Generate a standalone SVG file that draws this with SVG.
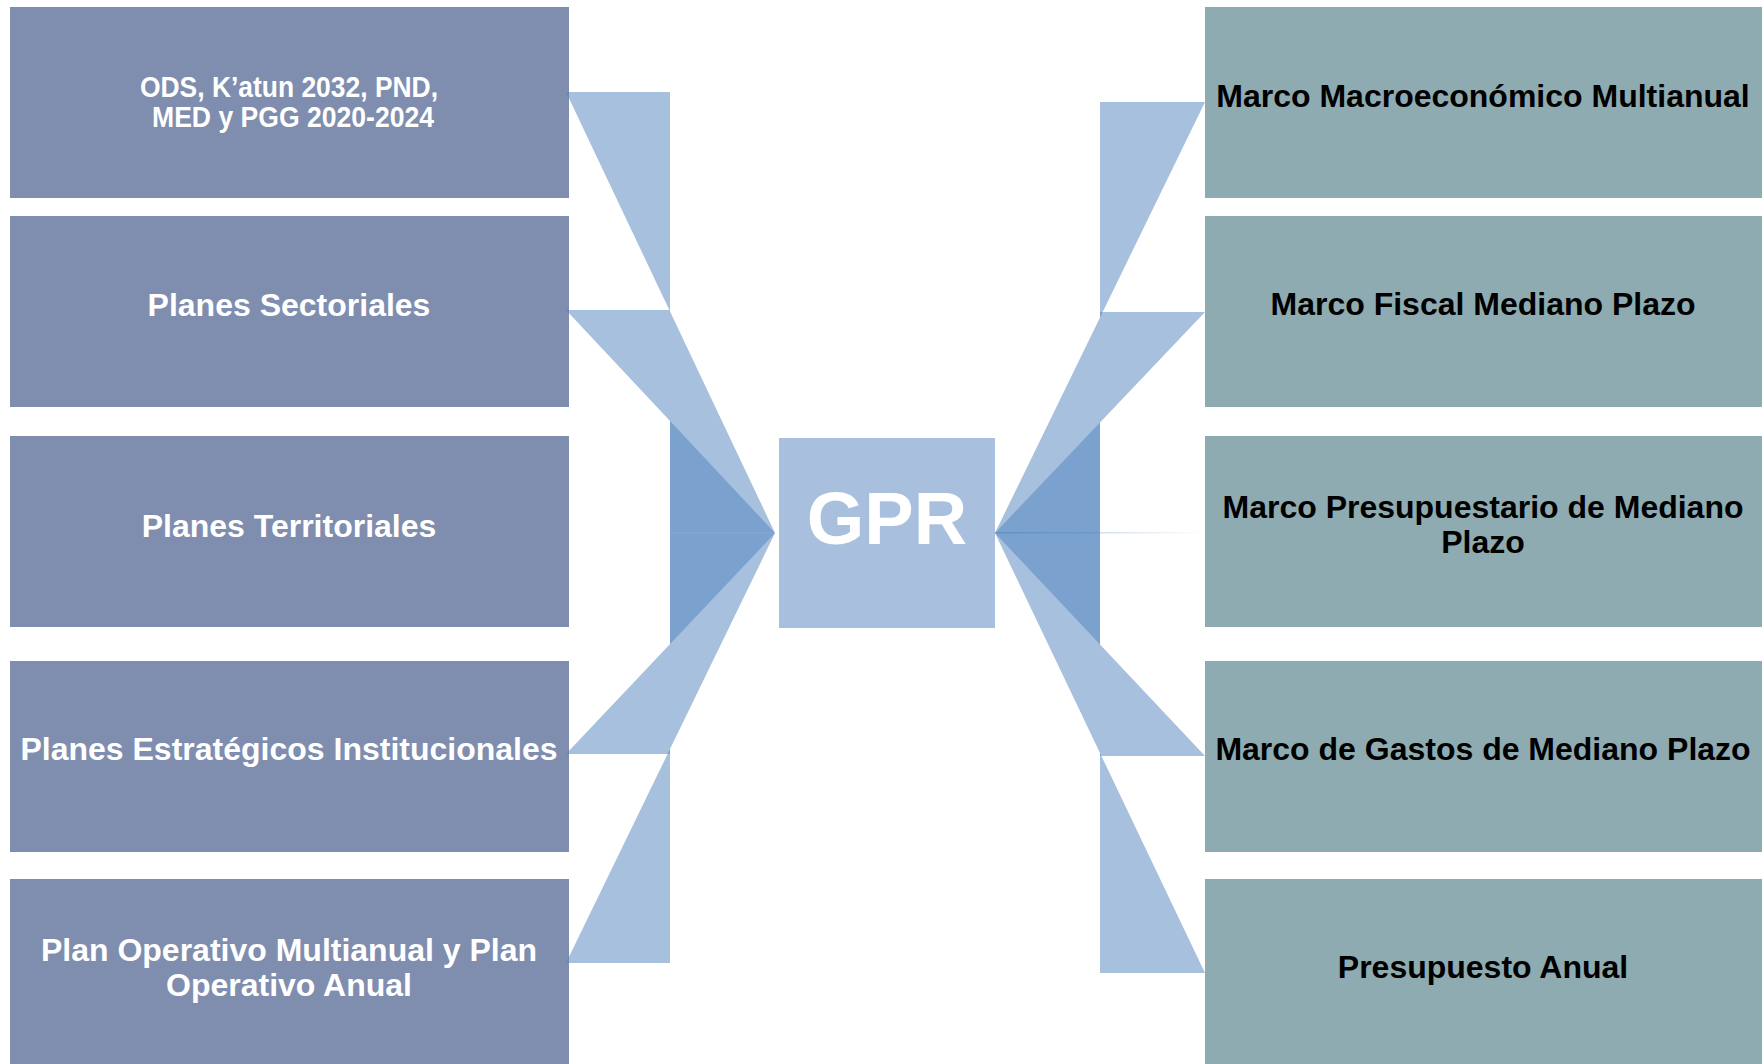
<svg xmlns="http://www.w3.org/2000/svg" width="1762" height="1064" viewBox="0 0 1762 1064">
<defs>
<style>
.lbox{fill:#7F8EAF}
.rbox{fill:#8EABB1}
.lt{font-family:"Liberation Sans",Arial,sans-serif;font-weight:bold;fill:#FFFFFF;text-anchor:middle}
.lts{font-family:"Liberation Sans",Arial,sans-serif;font-weight:bold;fill:#FFFFFF}
.rt{font-family:"Liberation Sans",Arial,sans-serif;font-weight:bold;fill:#000000;text-anchor:middle}
.conn{fill:#4F81BD;fill-opacity:0.5;stroke:none}
</style>
<linearGradient id="fade" x1="0" y1="0" x2="1" y2="0">
<stop offset="0" stop-color="#4F81BD" stop-opacity="0.5"/>
<stop offset="1" stop-color="#4F81BD" stop-opacity="0"/>
</linearGradient>
</defs>
<rect x="0" y="0" width="1762" height="1064" fill="#FFFFFF"/>

<g id="node-ods">
<rect class="lbox" x="10" y="7" width="559" height="191"/>
<text class="lts" x="140" y="97" font-size="29" textLength="298" lengthAdjust="spacingAndGlyphs">ODS, K’atun 2032, PND,</text>
<text class="lts" x="152" y="127" font-size="29" textLength="282" lengthAdjust="spacingAndGlyphs">MED y PGG 2020-2024</text>
</g>
<g id="node-sectoriales">
<rect class="lbox" x="10" y="216" width="559" height="191"/>
<text class="lt" x="289" y="316" font-size="32">Planes Sectoriales</text>
</g>
<g id="node-territoriales">
<rect class="lbox" x="10" y="436" width="559" height="191"/>
<text class="lt" x="289" y="537" font-size="32">Planes Territoriales</text>
</g>
<g id="node-estrategicos">
<rect class="lbox" x="10" y="661" width="559" height="191"/>
<text class="lt" x="289" y="760" font-size="32">Planes Estratégicos Institucionales</text>
</g>
<g id="node-operativo">
<rect class="lbox" x="10" y="879" width="559" height="200"/>
<text class="lt" x="289" y="961" font-size="32">Plan Operativo Multianual y Plan</text>
<text class="lt" x="289" y="996" font-size="32">Operativo Anual</text>
</g>

<g id="node-gpr">
<rect x="779" y="438" width="216" height="190" fill="#A8C0DE"/>
<text x="887" y="544" font-family="Liberation Sans,Arial,sans-serif" font-weight="bold" font-size="74" fill="#FFFFFF" text-anchor="middle">GPR</text>
</g>

<g id="node-macro">
<rect class="rbox" x="1205" y="7" width="557" height="191"/>
<text class="rt" x="1483" y="107" font-size="32">Marco Macroeconómico Multianual</text>
</g>
<g id="node-fiscal">
<rect class="rbox" x="1205" y="216" width="557" height="191"/>
<text class="rt" x="1483" y="315" font-size="32">Marco Fiscal Mediano Plazo</text>
</g>
<g id="node-presupuestario">
<rect class="rbox" x="1205" y="436" width="557" height="191"/>
<text class="rt" x="1483" y="518" font-size="32">Marco Presupuestario de Mediano</text>
<text class="rt" x="1483" y="553" font-size="32">Plazo</text>
</g>
<g id="node-gastos">
<rect class="rbox" x="1205" y="661" width="557" height="191"/>
<text class="rt" x="1483" y="760" font-size="32">Marco de Gastos de Mediano Plazo</text>
</g>
<g id="node-anual">
<rect class="rbox" x="1205" y="879" width="557" height="200"/>
<text class="rt" x="1483" y="978" font-size="32">Presupuesto Anual</text>
</g>

<g id="connectors">
<polygon class="conn" points="566,92 670,92 670,533 775,533"/>
<polygon class="conn" points="566,310 670,310 670,533 775,533"/>
<polygon class="conn" points="566,754 670,754 670,533 775,533"/>
<polygon class="conn" points="566,963 670,963 670,533 775,533"/>
<line x1="670" y1="533" x2="775" y2="533" stroke="#A8C0DE" stroke-opacity="0.4" stroke-width="1"/>
<polygon class="conn" points="1205,102 1100,102 1100,533 995,533"/>
<polygon class="conn" points="1205,312 1100,312 1100,533 995,533"/>
<polygon class="conn" points="1205,756 1100,756 1100,533 995,533"/>
<polygon class="conn" points="1205,973 1100,973 1100,533 995,533"/>
<rect x="995" y="532" width="210" height="1.5" fill="url(#fade)"/>
</g>
</svg>
